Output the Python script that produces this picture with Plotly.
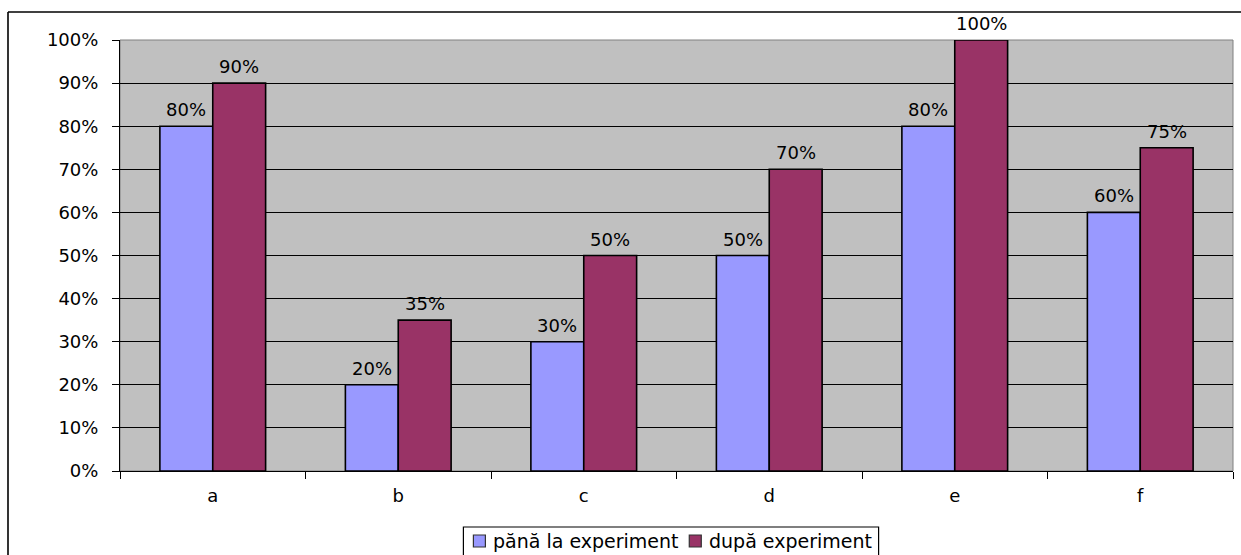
import plotly.graph_objects as go

categories = ["a", "b", "c", "d", "e", "f"]
inainte = [80, 20, 30, 50, 80, 60]
dupa = [90, 35, 50, 70, 100, 75]
series_names = ["pănă la experiment", "după experiment"]
y_ticks = [0, 10, 20, 30, 40, 50, 60, 70, 80, 90, 100]
y_tick_labels = [f"{v}%" for v in y_ticks]

COL_A = "#9999FF"
COL_B = "#993366"
FONT = "DejaVu Sans, Arial, sans-serif"
W, H = 1241, 555
L, R, T, B = 120, 8, 40, 84
pw = W - L - R
ph = H - T - B
BARGAP = 0.43


def px_x(p):
    return (p - L) / pw


def px_y(p):
    return (ph - (p - T)) / ph


fig = go.Figure()
for name, vals, col in [(series_names[0], inainte, COL_A), (series_names[1], dupa, COL_B)]:
    fig.add_trace(go.Bar(
        x=categories, y=vals, name=name, showlegend=False,
        marker=dict(color=col, line=dict(color="black", width=1.6)),
    ))

# value labels above each bar
bar_px = pw / len(categories) * (1 - BARGAP) / 2
annotations = []
for vals, side in [(inainte, -1), (dupa, 1)]:
    for cat, v in zip(categories, vals):
        annotations.append(dict(
            x=cat, y=v, xref="x", yref="y", text=f"{v}%", showarrow=False,
            xanchor="center", yanchor="bottom", xshift=side * bar_px / 2, yshift=4,
            font=dict(size=18, family=FONT, color="black"),
        ))

# legend drawn as a framed box with two swatches
fs_leg = 19
w1 = 9.783 * fs_leg
w2 = 8.596 * fs_leg
box_w = 10 + 12 + 6 + w1 + 12 + 12 + 6 + w2 + 8
bx0 = 671 - box_w / 2
bx1 = bx0 + box_w
by0 = 527
ly = 541
sq1 = bx0 + 10
tx1 = sq1 + 12 + 6
sq2 = tx1 + w1 + 12
tx2 = sq2 + 12 + 6

shapes = [
    # plot-area frame
    dict(type="rect", xref="paper", yref="paper", x0=0, x1=1, y0=0, y1=1,
         line=dict(color="#808080", width=1), layer="below"),
    # chart-area border (left and top edges)
    dict(type="line", xref="paper", yref="paper",
         x0=px_x(8), x1=px_x(8), y0=px_y(12), y1=px_y(570),
         line=dict(color="black", width=1.6)),
    dict(type="line", xref="paper", yref="paper",
         x0=px_x(8), x1=px_x(1260), y0=px_y(12), y1=px_y(12),
         line=dict(color="black", width=1.6)),
    # legend frame
    dict(type="rect", xref="paper", yref="paper",
         x0=px_x(bx0), x1=px_x(bx1), y0=px_y(by0), y1=px_y(575),
         line=dict(color="black", width=1.2), fillcolor="white"),
    dict(type="rect", xref="paper", yref="paper",
         x0=px_x(sq1), x1=px_x(sq1 + 12), y0=px_y(ly - 6), y1=px_y(ly + 6),
         line=dict(color="#333333", width=1.2), fillcolor=COL_A),
    dict(type="rect", xref="paper", yref="paper",
         x0=px_x(sq2), x1=px_x(sq2 + 12), y0=px_y(ly - 6), y1=px_y(ly + 6),
         line=dict(color="#333333", width=1.2), fillcolor=COL_B),
]
for tx, name in [(tx1, series_names[0]), (tx2, series_names[1])]:
    annotations.append(dict(
        x=px_x(tx), y=px_y(ly), xref="paper", yref="paper", text=name,
        showarrow=False, xanchor="left", yanchor="middle",
        font=dict(size=fs_leg, family=FONT, color="black"),
    ))

fig.update_layout(
    width=W, height=H,
    margin=dict(l=L, r=R, t=T, b=B, autoexpand=False),
    paper_bgcolor="white", plot_bgcolor="#C0C0C0",
    barmode="group", bargap=BARGAP, bargroupgap=0,
    font=dict(family=FONT, size=18, color="black"),
    showlegend=False,
    xaxis=dict(
        showline=True, linecolor="black", linewidth=1,
        ticks="outside", tickson="boundaries", ticklen=7, tickcolor="black",
        showgrid=False, tickfont=dict(size=18), ticklabelstandoff=8,
        automargin=False,
    ),
    yaxis=dict(
        range=[0, 100], tickvals=y_ticks, ticktext=y_tick_labels,
        showline=True, linecolor="black", linewidth=1,
        ticks="outside", ticklen=7, tickcolor="black",
        showgrid=True, gridcolor="black", gridwidth=1,
        tickfont=dict(size=18), zeroline=False, ticklabelstandoff=10,
        automargin=False,
    ),
    shapes=shapes,
    annotations=annotations,
)

fig.write_html("out.html")
